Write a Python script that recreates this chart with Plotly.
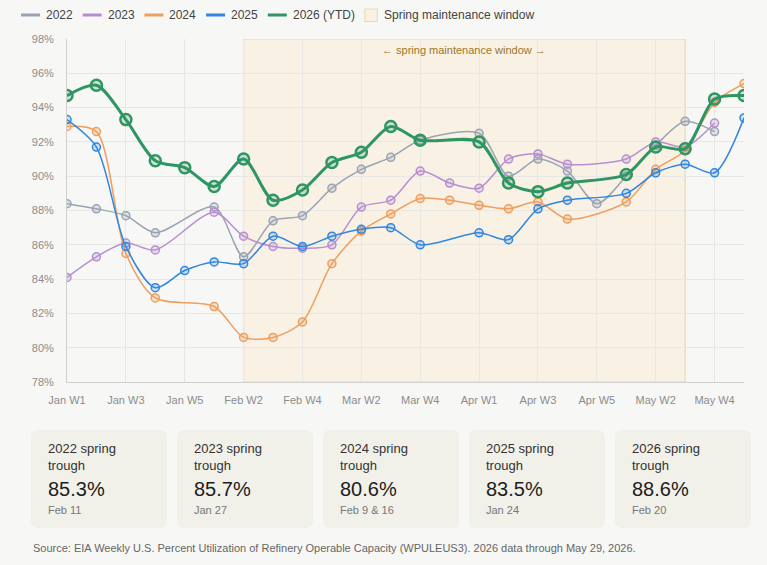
import plotly.graph_objects as go

W, H = 767, 565
L, R, T, B = 67, 744, 39, 382  # plot area in px

weeks = ["Jan W1", "Jan W2", "Jan W3", "Jan W4", "Jan W5",
         "Feb W1", "Feb W2", "Feb W3", "Feb W4",
         "Mar W1", "Mar W2", "Mar W3", "Mar W4", "Mar W5",
         "Apr W1", "Apr W2", "Apr W3", "Apr W4", "Apr W5",
         "May W1", "May W2", "May W3", "May W4", "May W5"]
tick_labels = ["Jan W1", "Jan W3", "Jan W5", "Feb W2", "Feb W4", "Mar W2",
               "Mar W4", "Apr W1", "Apr W3", "Apr W5", "May W2", "May W4"]

N = None
y2022 = [88.4, 88.1, 87.7, 86.7, N, 88.2, 85.3, 87.4, 87.7, 89.3, 90.4, 91.1,
         92.1, N, 92.5, 90.0, 91.0, 90.3, 88.4, 90.0, 91.8, 93.2, 92.6, N]
y2023 = [84.1, 85.3, 86.1, 85.7, N, 87.9, 86.5, 85.9, 85.8, 86.0, 88.2, 88.6,
         90.3, 89.6, 89.3, 91.0, 91.3, 90.7, N, 91.0, 92.0, 91.7, 93.1, N]
y2024 = [92.9, 92.6, 85.5, 82.9, N, 82.4, 80.6, 80.6, 81.5, 84.9, 86.8, 87.8,
         88.7, 88.6, 88.3, 88.1, 88.5, 87.5, N, 88.5, 90.4, 91.5, 94.3, 95.4]
y2025 = [93.3, 91.7, 85.9, 83.5, 84.5, 85.0, 84.9, 86.5, 85.9, 86.5, 86.9, 87.0,
         86.0, N, 86.7, 86.3, 88.1, 88.6, N, 89.0, 90.2, 90.7, 90.2, 93.4]
y2026 = [94.7, 95.3, 93.3, 90.9, 90.5, 89.4, 91.0, 88.6, 89.2, 90.8, 91.4, 92.9,
         92.1, N, 92.0, 89.6, 89.1, 89.6, N, 90.1, 91.7, 91.6, 94.5, 94.7]

series_names = ["2022", "2023", "2024", "2025", "2026 (YTD)"]
series_values = [y2022, y2023, y2024, y2025, y2026]
colors = ["#9aa3b4", "#b78fd1", "#ee9e5f", "#3186df", "#2f9563"]
fills = ["rgba(154,163,180,0.25)", "rgba(183,143,209,0.25)", "rgba(238,158,95,0.25)",
         "rgba(49,134,223,0.2)", "rgba(47,149,99,0.2)"]

window_start, window_end = "Feb W2", "May W3"
window_label = "\u2190 spring maintenance window \u2192"
window_legend = "Spring maintenance window"

card_titles = ["2022 spring", "2023 spring", "2024 spring", "2025 spring", "2026 spring"]
card_values = ["85.3%", "85.7%", "80.6%", "83.5%", "88.6%"]
card_dates = ["Feb 11", "Jan 27", "Feb 9 & 16", "Jan 24", "Feb 20"]

source = ("Source: EIA Weekly U.S. Percent Utilization of Refinery Operable Capacity "
          "(WPULEUS3). 2026 data through May 29, 2026.")

BG = "#f7f7f5"
CARD = "#f1f0e9"
FONT = "Liberation Sans, Arial, sans-serif"


def X(px):
    return (px - L) / (R - L)


def Y(py):
    return (B - py) / (B - T)


fig = go.Figure()
for i, (name, vals) in enumerate(zip(series_names, series_values)):
    big = i == 4
    fig.add_trace(go.Scatter(
        x=weeks, y=vals, name=name, mode="lines+markers",
        connectgaps=True,
        line=dict(color=colors[i], width=3 if big else 1.5, shape="spline", smoothing=0.8),
        marker=dict(size=11 if big else 8, color=fills[i],
                    line=dict(color=colors[i], width=2.5 if big else 1.5)),
        showlegend=False,
    ))

shapes = []
annotations = []

# spring maintenance window
shapes.append(dict(type="rect", xref="x", yref="y", x0=window_start, x1=window_end,
                   y0=78, y1=98, fillcolor="#f8f1e4", line=dict(color="#e6d5ad", width=1),
                   layer="below"))
annotations.append(dict(xref="x", yref="y", x=13.5, y=97.38,
                        text=window_label, showarrow=False,
                        font=dict(family=FONT, size=11, color="#9e7629"),
                        xanchor="center", yanchor="middle"))

# legend (manual), Arial-metric text widths at 12px
leg_y = 15
LEG_FS = 12
widths = [26.7, 26.7, 26.7, 26.7, 62.0]
x = 21
for i, wtxt in enumerate(widths):
    shapes.append(dict(type="line", xref="paper", yref="paper",
                       x0=X(x), x1=X(x + 19), y0=Y(leg_y), y1=Y(leg_y),
                       line=dict(color=colors[i], width=3)))
    annotations.append(dict(xref="paper", yref="paper", x=X(x + 23), y=Y(leg_y),
                            text=series_names[i], showarrow=False, xanchor="left",
                            yanchor="middle", font=dict(family=FONT, size=LEG_FS, color="#444444")))
    x = x + 23 + wtxt + 12
shapes.append(dict(type="rect", xref="paper", yref="paper",
                   x0=X(x), x1=X(x + 12.5), y0=Y(21.5), y1=Y(9),
                   fillcolor="#f8f1e4", line=dict(color="#ead9b0", width=1)))
annotations.append(dict(xref="paper", yref="paper", x=X(x + 17), y=Y(leg_y),
                        text=window_legend, showarrow=False, xanchor="left",
                        yanchor="middle", font=dict(family=FONT, size=LEG_FS, color="#444444")))


def rounded_path(x0, y0, x1, y1, r):
    def p(px, py):
        return f"{X(px):.5f},{Y(py):.5f}"
    return (f"M {p(x0 + r, y0)} L {p(x1 - r, y0)} Q {p(x1, y0)} {p(x1, y0 + r)} "
            f"L {p(x1, y1 - r)} Q {p(x1, y1)} {p(x1 - r, y1)} "
            f"L {p(x0 + r, y1)} Q {p(x0, y1)} {p(x0, y1 - r)} "
            f"L {p(x0, y0 + r)} Q {p(x0, y0)} {p(x0 + r, y0)} Z")


card_x = [31, 177, 323, 469, 615]
cw = 136
for i, cx in enumerate(card_x):
    shapes.append(dict(type="path", xref="paper", yref="paper",
                       path=rounded_path(cx, 430, cx + cw, 528, 8),
                       fillcolor=CARD, line=dict(width=0), layer="below"))
    tx = X(cx + 15)
    annotations.append(dict(xref="paper", yref="paper", x=tx, y=Y(457),
                            text=card_titles[i] + "<br>trough", showarrow=False,
                            xanchor="left", yanchor="middle", align="left",
                            font=dict(family=FONT, size=13, color="#333333")))
    annotations.append(dict(xref="paper", yref="paper", x=tx, y=Y(489),
                            text=card_values[i], showarrow=False,
                            xanchor="left", yanchor="middle",
                            font=dict(family=FONT, size=20, color="#1d1d1d")))
    annotations.append(dict(xref="paper", yref="paper", x=tx, y=Y(510),
                            text=card_dates[i], showarrow=False,
                            xanchor="left", yanchor="middle",
                            font=dict(family=FONT, size=11, color="#777777")))

annotations.append(dict(xref="paper", yref="paper", x=X(31), y=Y(548), text=source,
                        showarrow=False, xanchor="left", yanchor="middle",
                        font=dict(family=FONT, size=11, color="#666666")))

fig.update_layout(
    width=W, height=H,
    margin=dict(l=L, r=W - R, t=T, b=H - B, pad=0),
    paper_bgcolor=BG, plot_bgcolor=BG,
    shapes=shapes, annotations=annotations,
    font=dict(family=FONT),
    xaxis=dict(type="category", categoryorder="array", categoryarray=weeks,
               range=[0, len(weeks) - 1], tickmode="array", tickvals=tick_labels,
               ticktext=tick_labels, showgrid=True, gridcolor="#e7e7e3", gridwidth=1,
               showline=True, linecolor="#d0d0cc", linewidth=1, zeroline=False,
               ticks="", ticklabelstandoff=8,
               tickfont=dict(family=FONT, size=11, color="#8c8c8c")),
    yaxis=dict(range=[78, 98], dtick=2, tick0=78, ticksuffix="%",
               showgrid=True, gridcolor="#e7e7e3", gridwidth=1,
               showline=True, linecolor="#d0d0cc", linewidth=1, zeroline=False,
               ticks="", ticklabelstandoff=10,
               tickfont=dict(family=FONT, size=11, color="#8c8c8c")),
)

fig.write_html("out.html")
